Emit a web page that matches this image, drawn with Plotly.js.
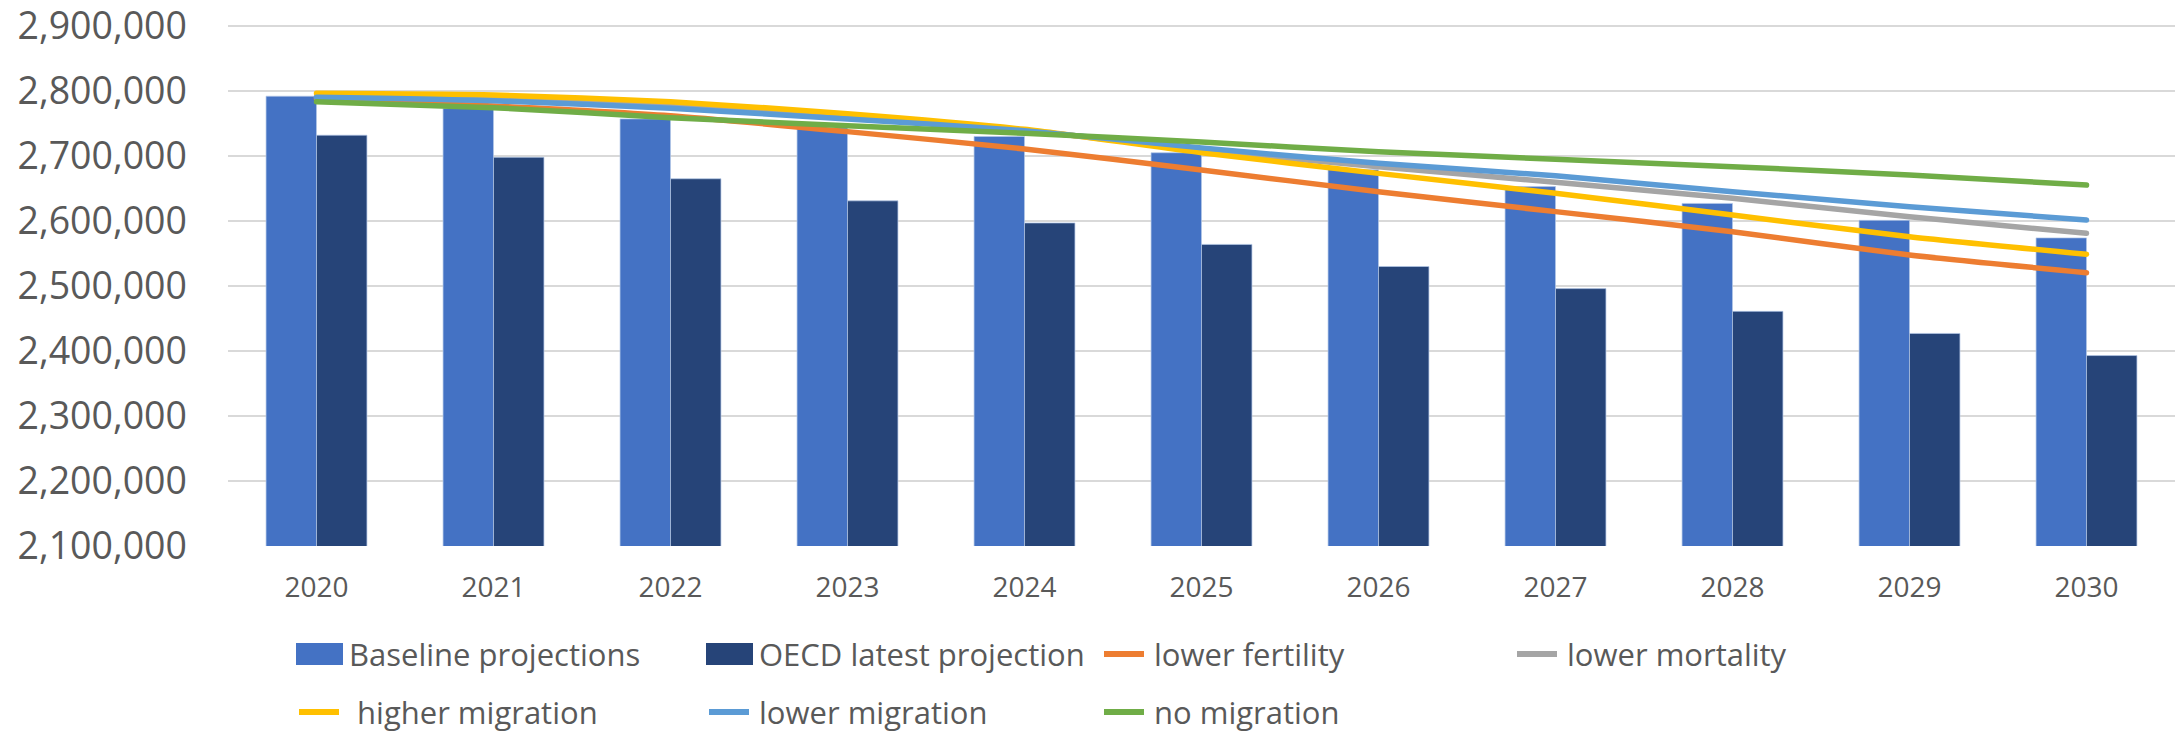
<!DOCTYPE html>
<html>
<head>
<meta charset="utf-8">
<script src="https://cdn.plot.ly/plotly-3.0.1.min.js"></script>
<style>
html,body{margin:0;padding:0;background:#fff;}
#chart{width:2178px;height:733px;}
.scatterlayer path.js-line{stroke-linecap:round;stroke-linejoin:round;}
</style>
</head>
<body>
<div id="chart"></div>
<script>
// ---- data ----
const years = ['2020','2021','2022','2023','2024','2025','2026','2027','2028','2029','2030'];
const baseline = [2792000, 2773000, 2757000, 2743000, 2730000, 2705000, 2679000, 2653000, 2627000, 2601000, 2574000];
const oecd = [2732000, 2698000, 2665000, 2631000, 2597000, 2564000, 2530000, 2496000, 2461000, 2427000, 2393000];
const lowerFertility = [2788000, 2777000, 2762000, 2737500, 2710800, 2678500, 2645100, 2614400, 2583500, 2547700, 2520500];
const lowerMortality = [2790500, 2787000, 2777000, 2761000, 2739500, 2709000, 2683600, 2659500, 2634900, 2606600, 2581000];
const higherMigration = [2796400, 2793800, 2783500, 2765000, 2741000, 2705100, 2673300, 2642600, 2609200, 2575800, 2548700];
const lowerMigration = [2790300, 2785000, 2773300, 2757000, 2739000, 2712500, 2688700, 2669500, 2645100, 2622000, 2601500];
const noMigration = [2783600, 2774300, 2759000, 2746500, 2734900, 2721500, 2706600, 2694900, 2683600, 2670800, 2655400];
const barNames = ['Baseline projections', 'OECD latest projection'];
const lineNames = ['lower fertility', 'lower mortality', ' higher migration', 'lower migration', 'no migration'];
const yTicks = [2100000, 2200000, 2300000, 2400000, 2500000, 2600000, 2700000, 2800000, 2900000];

// ---- styling ----
const barColors = ['#4472C4', '#264478'];
const lineColors = ['#ED7D31', '#A5A5A5', '#FFC000', '#5B9BD5', '#70AD47'];
const lineSeries = [lowerFertility, lowerMortality, higherMigration, lowerMigration, noMigration];

const W = 2178, H = 733;
const M = {l: 228, r: 3, t: 23, b: 187};
const PW = W - M.l - M.r, PH = H - M.t - M.b;
const px = x => (x - M.l) / PW;
const py = y => (H - M.b - y) / PH;
const yMin = 2100000, pxPerUnit = 65 / 100000;
const yMax = yMin + PH / pxPerUnit;

const traces = [];
[baseline, oecd].forEach((vals, i) => {
  traces.push({
    type: 'bar', x: years, y: vals, name: barNames[i],
    marker: {color: barColors[i], line: {color: 'rgba(180,199,231,0.7)', width: 1}},
    hoverinfo: 'skip', showlegend: false
  });
});
lineSeries.forEach((vals, i) => {
  traces.push({
    type: 'scatter', mode: 'lines', x: years, y: vals, name: lineNames[i],
    line: {color: lineColors[i], width: 5.5, shape: 'spline', smoothing: 0.6},
    hoverinfo: 'skip', showlegend: false
  });
});

// ---- legend (manual, to match the large swatches) ----
const legendFont = {family: 'Open Sans', size: 31, color: '#595959'};
const items = [
  {kind: 'bar', color: barColors[0], name: barNames[0], x: 296, y: 654},
  {kind: 'bar', color: barColors[1], name: barNames[1], x: 706, y: 654},
  {kind: 'line', color: lineColors[0], name: lineNames[0], x: 1101, y: 654},
  {kind: 'line', color: lineColors[1], name: lineNames[1], x: 1514, y: 654},
  {kind: 'line', color: lineColors[2], name: lineNames[2], x: 296, y: 712},
  {kind: 'line', color: lineColors[3], name: lineNames[3], x: 706, y: 712},
  {kind: 'line', color: lineColors[4], name: lineNames[4], x: 1101, y: 712}
];
const shapes = [], annotations = [];
items.forEach(it => {
  if (it.kind === 'bar') {
    shapes.push({type: 'rect', xref: 'paper', yref: 'paper',
      x0: px(it.x), x1: px(it.x + 47), y0: py(it.y - 11), y1: py(it.y + 11),
      fillcolor: it.color, line: {width: 0}});
  } else {
    shapes.push({type: 'line', xref: 'paper', yref: 'paper',
      x0: px(it.x + 3), x1: px(it.x + 43), y0: py(it.y), y1: py(it.y),
      line: {color: it.color, width: 6}});
  }
  annotations.push({xref: 'paper', yref: 'paper', x: px(it.x + 52), y: py(it.y),
    xanchor: 'left', yanchor: 'middle', text: it.name.replace(/^ /, '&nbsp;'), showarrow: false,
    font: legendFont, borderpad: 0});
});

const layout = {
  width: W, height: H,
  margin: M,
  paper_bgcolor: '#ffffff', plot_bgcolor: '#ffffff',
  barmode: 'group', bargap: 0.43, bargroupgap: 0,
  showlegend: false,
  xaxis: {
    type: 'category', showgrid: false, zeroline: false,
    showline: false, ticks: '',
    tickfont: {family: 'Open Sans', size: 28, color: '#595959'},
    ticklabelstandoff: 22
  },
  yaxis: {
    range: [yMin, yMax], tickmode: 'array', tickvals: yTicks,
    tickformat: ',d', showgrid: true, gridcolor: '#D9D9D9', gridwidth: 1.5,
    zeroline: false, showline: false, ticks: '',
    tickfont: {family: 'Open Sans', size: 37.5, color: '#595959'},
    ticklabelstandoff: 40, ticklabeloverflow: 'allow'
  },
  shapes: shapes,
  annotations: annotations
};

Plotly.newPlot('chart', traces, layout, {staticPlot: true, displayModeBar: false});
</script>
</body>
</html>
